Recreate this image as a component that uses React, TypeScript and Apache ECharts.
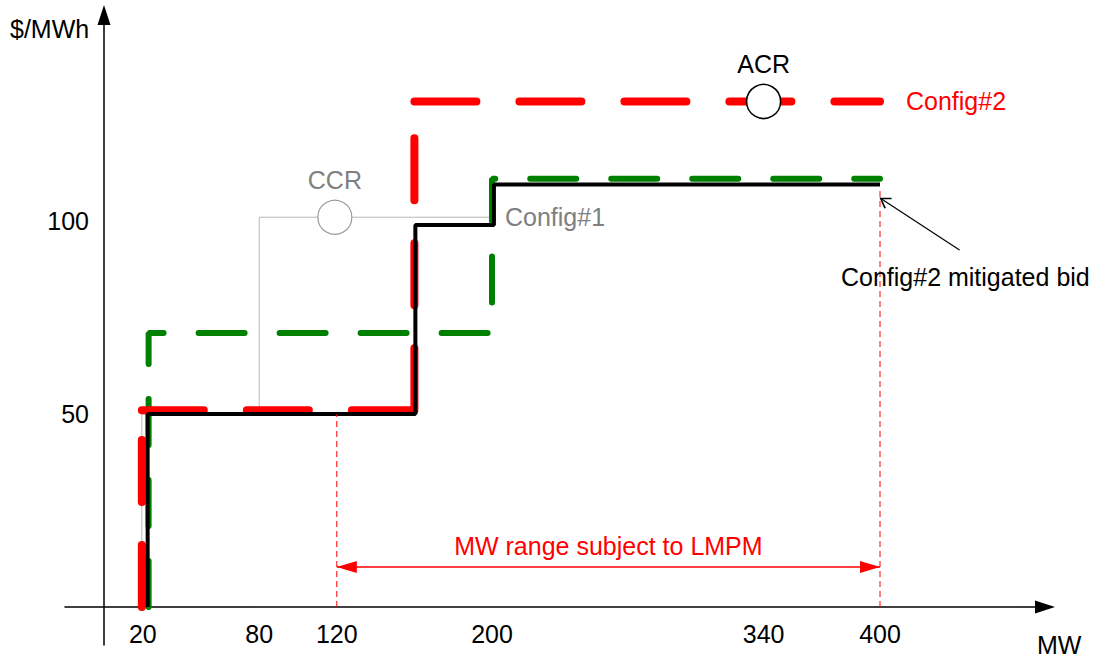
import React, { useEffect, useRef } from "react";
import * as echarts from "echarts";

// ---- data ----
const mwTicks = [20, 80, 120, 200, 340, 400];
const priceTicks = [50, 100];
const ccrPath = [[19.5, 0], [19.5, 50], [80, 50], [80, 101], [200, 101]];
const config1Bid = [[23, 0], [23, 71], [200, 71], [200, 111], [400, 111]];
const config2Bid = [[19.5, 0], [19.5, 51], [160, 51], [160, 131], [400, 131]];
const mitigatedBid = [[22.5, 0], [22.5, 50], [160.5, 50], [160.5, 99], [201, 99], [201, 109.5], [400, 109.5]];
const ccrPoint = [119, 101];
const acrPoint = [340, 131];
const lmpmRange = [120, 400];
const lmpmLevel = 10.4;
const guideLow = [[120, 0], [120, 50]];
const guideHigh = [[400, 0], [400, 108]];
const pointerFrom = [441, 92.5];
const pointerTo = [400, 106];
const mitigatedLabelAt = [444, 85.5];

const FONT = "'Liberation Sans', Arial, Helvetica, sans-serif";
const FS = 25;
const CHEVRON = "path://M0,9L5,0L10,9L9,10L5,2.5L1,10Z";

export default function App() {
  const ref = useRef<HTMLDivElement>(null);
  useEffect(() => {
    if (!ref.current) return;
    const chart = echarts.init(ref.current, undefined, { renderer: "svg" });
    const axisLine = (sym: string) => ({
      show: true,
      onZero: true,
      symbol: ["none", sym],
      symbolSize: [13, 20],
      lineStyle: { color: "#000", width: 1.5 },
    });

    // Config#2 drawn segment by segment (each segment restarts its dash pattern)
    const config2Segments = config2Bid.slice(0, -1).map((p, i) => {
      const isLast = i === config2Bid.length - 2;
      return {
        name: "Config#2",
        type: "line",
        data: [p, config2Bid[i + 1]],
        symbol: "none",
        silent: true,
        lineStyle: { color: "#ff0000", width: 8, type: [62, 43], cap: "round" },
        endLabel: isLast
          ? {
              show: true,
              formatter: "Config#2",
              color: "#ff0000",
              fontSize: FS,
              fontFamily: FONT,
              distance: 26,
            }
          : { show: false },
        z: 3,
      };
    });

    chart.setOption({
      animation: false,
      backgroundColor: "#fff",
      textStyle: { fontFamily: FONT },
      grid: { left: 65, right: 54, top: 15, bottom: 12, containLabel: false, outerBoundsMode: "none" },
      xAxis: {
        type: "value",
        min: -20.1,
        max: 485.05,
        axisLine: axisLine("triangle"),
        axisTick: { show: false },
        splitLine: { show: false },
        axisLabel: {
          customValues: mwTicks,
          margin: -24,
          color: "#000",
          fontSize: FS,
          fontFamily: FONT,
        },
      },
      yAxis: {
        type: "value",
        min: -9.84,
        max: 153.4,
        axisLine: axisLine("triangle"),
        axisTick: { show: false },
        splitLine: { show: false },
        axisLabel: {
          customValues: priceTicks,
          margin: -24,
          color: "#000",
          fontSize: FS,
          fontFamily: FONT,
        },
      },
      graphic: [
        { type: "text", left: 10, top: 16, style: { text: "$/MWh", font: `${FS}px ${FONT}`, fill: "#000" } },
        { type: "text", left: 1037, top: 632, style: { text: "MW", font: `${FS}px ${FONT}`, fill: "#000" } },
      ],
      series: [
        {
          name: "CCR",
          type: "line",
          data: ccrPath,
          symbol: "none",
          silent: true,
          lineStyle: { color: "#b8b8b8", width: 1 },
          endLabel: {
            show: true,
            formatter: "Config#1",
            color: "#808080",
            fontSize: FS,
            fontFamily: FONT,
            distance: 13,
          },
          z: 1,
        },
        {
          name: "Config#1",
          type: "line",
          data: config1Bid,
          symbol: "none",
          silent: true,
          lineStyle: { color: "#008000", width: 6, type: [46, 35], cap: "round" },
          z: 2,
        },
        ...config2Segments,
        {
          name: "Config#2 mitigated bid",
          type: "line",
          data: mitigatedBid,
          symbol: "none",
          silent: true,
          lineStyle: { color: "#000", width: 4 },
          z: 4,
        },
        {
          name: "guideLow",
          type: "line",
          data: guideLow,
          symbol: "none",
          silent: true,
          lineStyle: { color: "#ff0000", width: 1, type: [6, 4] },
          z: 5,
        },
        {
          name: "guideHigh",
          type: "line",
          data: guideHigh,
          symbol: "none",
          silent: true,
          lineStyle: { color: "#ff0000", width: 1, type: [6, 4] },
          z: 5,
          markLine: {
            silent: true,
            animation: false,
            data: [
              [
                {
                  coord: [lmpmRange[0], lmpmLevel],
                  symbol: "triangle",
                  symbolSize: [12, 20],
                  symbolOffset: [0, 10],
                  lineStyle: { color: "#ff0000", width: 1.5, type: "solid" },
                  label: {
                    show: true,
                    position: "middle",
                    formatter: "MW range subject to LMPM",
                    color: "#ff0000",
                    fontSize: FS,
                    fontFamily: FONT,
                    distance: 8,
                  },
                },
                {
                  coord: [lmpmRange[1], lmpmLevel],
                  symbol: "triangle",
                  symbolSize: [12, 20],
                  symbolOffset: [0, 10],
                },
              ],
              [
                {
                  coord: pointerFrom,
                  symbol: "none",
                  lineStyle: { color: "#000", width: 1.2, type: "solid" },
                  label: { show: false },
                },
                {
                  coord: pointerTo,
                  symbol: CHEVRON,
                  symbolSize: [13, 11],
                  symbolOffset: [0, 5],
                  itemStyle: { color: "#000" },
                },
              ],
            ],
          },
        },
        {
          name: "points",
          type: "scatter",
          silent: true,
          z: 10,
          data: [
            {
              value: ccrPoint,
              symbol: "circle",
              symbolSize: 34,
              itemStyle: { color: "#fff", borderColor: "#999", borderWidth: 1.2, opacity: 1 },
              label: { show: true, position: "top", distance: 7, formatter: "CCR", color: "#808080", fontSize: FS, fontFamily: FONT },
            },
            {
              value: acrPoint,
              symbol: "circle",
              symbolSize: 34,
              itemStyle: { color: "#fff", borderColor: "#000", borderWidth: 1.5, opacity: 1 },
              label: { show: true, position: "top", distance: 7, formatter: "ACR", color: "#000", fontSize: FS, fontFamily: FONT },
            },
            {
              value: mitigatedLabelAt,
              symbol: "circle",
              symbolSize: 1,
              itemStyle: { color: "rgba(0,0,0,0)", opacity: 1 },
              label: { show: true, position: "inside", formatter: "Config#2 mitigated bid", color: "#000", fontSize: FS, fontFamily: FONT },
            },
          ],
        },
      ],
    });
    return () => chart.dispose();
  }, []);
  return (
    <div
      ref={ref}
      style={{ position: "absolute", left: 0, top: 0, width: 1099, height: 657, background: "#fff" }}
    />
  );
}
